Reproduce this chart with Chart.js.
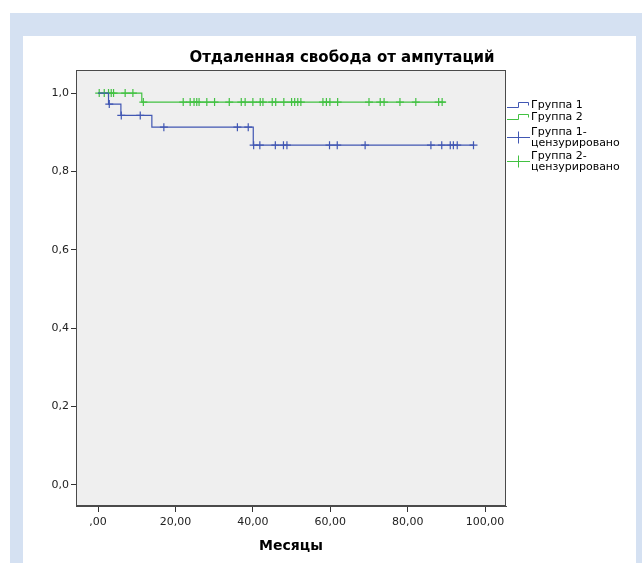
<!DOCTYPE html>
<html>
<head>
<meta charset="utf-8">
<script src="https://cdn.jsdelivr.net/npm/chart.js@4.4.1/dist/chart.umd.min.js"></script>
<style>
  html, body { margin: 0; padding: 0; background: #fff; }
  body { width: 642px; height: 563px; position: relative; overflow: hidden; }
  #frame { position: absolute; left: 10px; top: 13px; right: 0; bottom: 0; background: #d5e1f2; }
  #panel { position: absolute; left: 23px; top: 36px; width: 613px; bottom: 0; background: #fff; }
  #km { position: absolute; left: 0; top: 0; }
</style>
</head>
<body>
<div id="frame"></div>
<div id="panel"></div>
<canvas id="km" width="642" height="563"></canvas>
<script>
const chartTitle = 'Отдаленная свобода от ампутаций';
const xTitle = 'Месяцы';
const groupNames = ['Группа 1', 'Группа 2'];
const censorNames = [['Группа 1-', 'цензурировано'], ['Группа 2-', 'цензурировано']];

const xTicks = [0, 20, 40, 60, 80, 100];
const xTickLabels = [',00', '20,00', '40,00', '60,00', '80,00', '100,00'];
const yTicks = [0, 0.2, 0.4, 0.6, 0.8, 1.0];
const yTickLabels = ['0,0', '0,2', '0,4', '0,6', '0,8', '1,0'];

// survival curve: time of each step and survival after it
const g1Time = [0, 2.7, 5.9, 13.9, 40.1, 97.2];
const g1Surv = [1, 0.972, 0.943, 0.913, 0.867, 0.867];
const g2Time = [0, 11.3, 89.8];
const g2Surv = [1, 0.977, 0.977];

// censored cases
const g1CensTime = [2.9, 6.0, 10.9, 17.0, 36.0, 38.8, 40.2, 41.8, 45.8, 47.9, 48.8, 59.8, 61.8, 69.0,
  86.0, 88.8, 91.0, 91.8, 92.8, 97.0];
const g1CensSurv = [0.972, 0.943, 0.943, 0.913, 0.913, 0.913, 0.867, 0.867, 0.867, 0.867, 0.867, 0.867,
  0.867, 0.867, 0.867, 0.867, 0.867, 0.867, 0.867, 0.867];
const g2CensTime = [0.3, 1.6, 2.7, 3.4, 4.0, 7.0, 9.0, 11.7, 22.0, 23.8, 24.8, 25.5, 26.1, 28.1, 30.1,
  33.9, 37.0, 38.0, 40.0, 41.9, 42.6, 45.0, 45.9, 48.0, 50.0, 50.8, 51.6, 52.4, 58.1, 59.0, 59.9, 61.9,
  70.0, 72.9, 73.9, 78.0, 82.1, 88.0, 88.9];
const g2CensSurv = [1, 1, 1, 1, 1, 1, 1, 0.977, 0.977, 0.977, 0.977, 0.977, 0.977, 0.977, 0.977,
  0.977, 0.977, 0.977, 0.977, 0.977, 0.977, 0.977, 0.977, 0.977, 0.977, 0.977, 0.977, 0.977, 0.977,
  0.977, 0.977, 0.977, 0.977, 0.977, 0.977, 0.977, 0.977, 0.977, 0.977];

const blue = '#4157b3';
const green = '#42c142';
const font = 'DejaVu Sans';

const pts = (xs, ys) => xs.map((x, i) => ({x: x, y: ys[i]}));

// grey plot background + full frame
const plotBox = {
  id: 'plotBox',
  beforeDraw(chart) {
    const {ctx, chartArea: a} = chart;
    ctx.save();
    ctx.fillStyle = '#efefef';
    ctx.fillRect(a.left, a.top, a.right - a.left, a.bottom - a.top);
    ctx.restore();
  },
  afterDraw(chart) {
    const {ctx, chartArea: a} = chart;
    ctx.save();
    ctx.strokeStyle = '#4a4a4a';
    ctx.lineWidth = 1;
    ctx.strokeRect(a.left + 0.5, a.top + 0.5, a.right - a.left - 1, a.bottom - a.top - 1);
    ctx.restore();
  }
};

// title and SPSS-like legend on the right
const extras = {
  id: 'extras',
  afterDraw(chart) {
    const ctx = chart.ctx;
    ctx.save();
    ctx.fillStyle = '#000';
    ctx.font = 'bold 15px "' + font + '"';
    ctx.textAlign = 'center';
    ctx.textBaseline = 'middle';
    ctx.fillText(chartTitle, 342, 58);

    ctx.font = '11px "' + font + '"';
    ctx.textAlign = 'left';
    ctx.lineWidth = 1;
    const colors = [blue, green];
    const stepY = [105, 117];
    groupNames.forEach((name, i) => {
      const y = stepY[i];
      ctx.strokeStyle = colors[i];
      ctx.beginPath();
      ctx.moveTo(507, y + 2.5);
      ctx.lineTo(518.5, y + 2.5);
      ctx.lineTo(518.5, y - 2.5);
      ctx.lineTo(528.5, y - 2.5);
      ctx.lineTo(528.5, y + 0.5);
      ctx.stroke();
      ctx.fillText(name, 531, y);
    });
    const crossY = [137.5, 161.5];
    censorNames.forEach((lines, i) => {
      const y = crossY[i];
      ctx.strokeStyle = colors[i];
      ctx.beginPath();
      ctx.moveTo(507, y);
      ctx.lineTo(530, y);
      ctx.moveTo(518.5, y - 6);
      ctx.lineTo(518.5, y + 6);
      ctx.stroke();
      ctx.fillText(lines[0], 531, y - 5);
      ctx.fillText(lines[1], 531, y + 6);
    });
    ctx.restore();
  }
};

new Chart(document.getElementById('km'), {
  type: 'scatter',
  data: {
    datasets: [{
      label: groupNames[0],
      data: pts(g1Time, g1Surv),
      showLine: true,
      stepped: true,
      borderColor: blue,
      borderWidth: 1.2,
      pointRadius: 0
    }, {
      label: groupNames[1],
      data: pts(g2Time, g2Surv),
      showLine: true,
      stepped: true,
      borderColor: green,
      borderWidth: 1.2,
      pointRadius: 0
    }, {
      label: censorNames[0].join(''),
      data: pts(g1CensTime, g1CensSurv),
      showLine: false,
      pointStyle: 'cross',
      pointRadius: 4,
      pointBorderWidth: 1.2,
      borderColor: blue
    }, {
      label: censorNames[1].join(''),
      data: pts(g2CensTime, g2CensSurv),
      showLine: false,
      pointStyle: 'cross',
      pointRadius: 4,
      pointBorderWidth: 1.2,
      borderColor: green
    }]
  },
  options: {
    responsive: false,
    animation: false,
    events: [],
    layout: {
      padding: {left: 0, top: 70, right: 136, bottom: 0}
    },
    plugins: {
      legend: {display: false},
      title: {display: false},
      tooltip: {enabled: false}
    },
    scales: {
      x: {
        type: 'linear',
        min: -5.7,
        max: 105.4,
        afterBuildTicks: axis => { axis.ticks = xTicks.map(v => ({value: v})); },
        afterFit: axis => { axis.height = 57; },
        grid: {drawOnChartArea: false, drawTicks: true, tickLength: 6, color: '#333'},
        border: {display: true, color: '#4a4a4a'},
        ticks: {
          padding: 4,
          color: '#222',
          font: {family: font, size: 11},
          maxRotation: 0,
          autoSkip: false,
          callback: (v, i) => xTickLabels[i]
        },
        title: {
          display: true,
          text: xTitle,
          color: '#000',
          font: {family: font, size: 14, weight: 'bold', lineHeight: 1.2},
          padding: {top: 4, bottom: 8}
        }
      },
      y: {
        type: 'linear',
        min: -0.054,
        max: 1.059,
        afterBuildTicks: axis => { axis.ticks = yTicks.map(v => ({value: v})); },
        afterFit: axis => { axis.width = 76; },
        grid: {drawOnChartArea: false, drawTicks: true, tickLength: 5, color: '#333'},
        border: {display: true, color: '#4a4a4a'},
        ticks: {
          padding: 2,
          color: '#222',
          font: {family: font, size: 11},
          autoSkip: false,
          callback: (v, i) => yTickLabels[i]
        }
      }
    }
  },
  plugins: [plotBox, extras]
});
</script>
</body>
</html>
